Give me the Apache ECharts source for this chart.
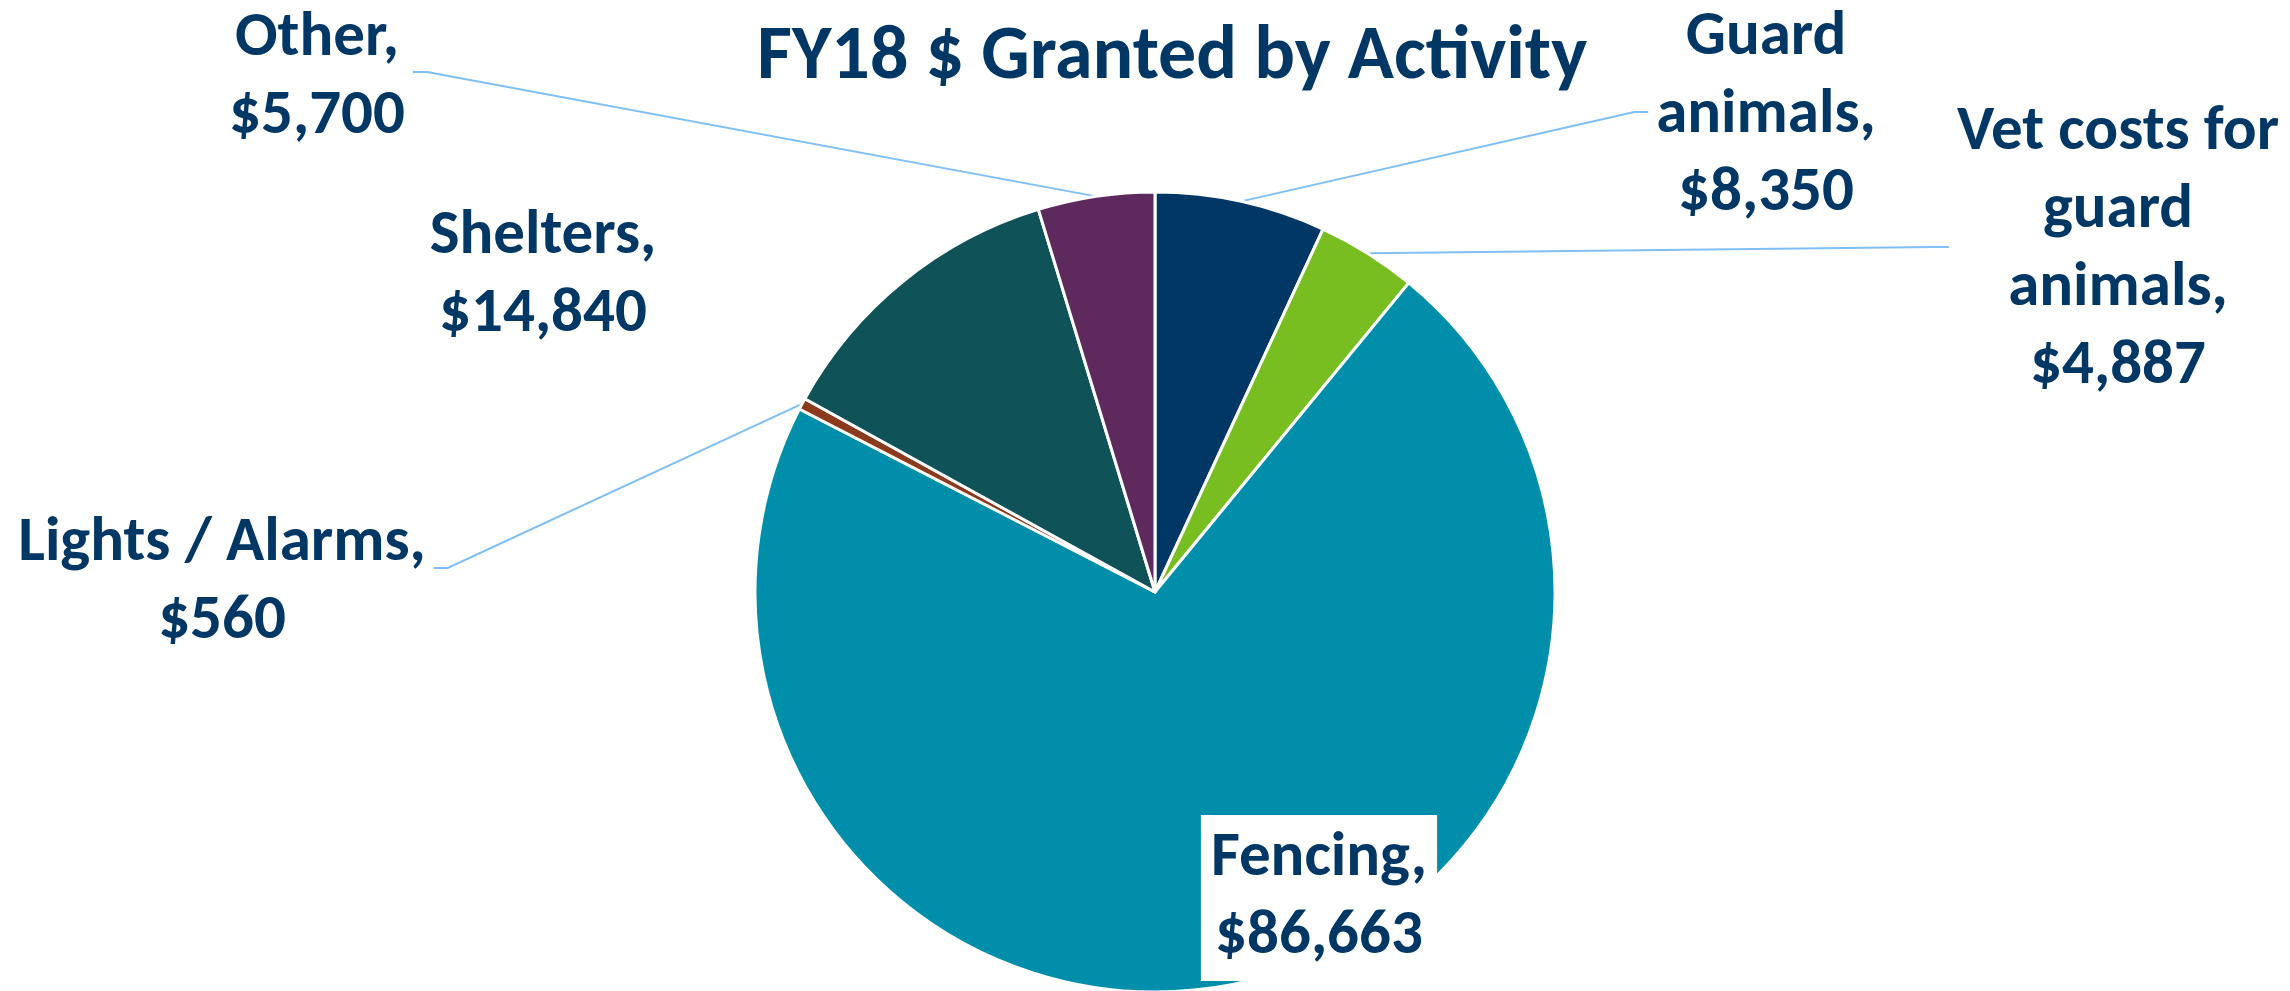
<!DOCTYPE html>
<html>
<head>
<meta charset="utf-8">
<title>FY18 $ Granted by Activity</title>
<script src="https://cdn.jsdelivr.net/npm/echarts@6/dist/echarts.min.js"></script>
<style>
  html, body { margin: 0; padding: 0; background: #fff; }
  #chart { width: 2290px; height: 991px; }
</style>
</head>
<body>
<div id="chart"></div>
<script>
// slices, clockwise from 12 o'clock
const categories = ['Guard\nanimals', 'Vet costs for\nguard\nanimals', 'Fencing', 'Lights / Alarms', 'Shelters', 'Other'];
const amounts = [8350, 4887, 86663, 560, 14840, 5700];
const colors = ['#003764', '#78be20', '#008eaa', '#8b3a1e', '#0f5257', '#5e2a5e'];

// where each label sits: [centerX, centerY, lineSide, lineYOffset]
// lineSide: 1 = leader leaves from the label's right, -1 = from its left, 0 = no leader
const labelPos = [
    [1766, 116, -1, -4],
    [2118, 250, -1, -3],
    [1319, 898, 0, 0],
    [222, 583, 1, -15],
    [543, 276, 0, 0],
    [317, 78, 1, -6]
];

const navy = '#003764';
const font = 'Carlito, Lato, "Open Sans", sans-serif';

var chart = echarts.init(document.getElementById('chart'));

var data = categories.map(function (name, i) {
    var item = { name: name, value: amounts[i], itemStyle: { color: colors[i] } };
    if (labelPos[i][2] === 0) item.labelLine = { show: false };
    if (i === 2) {
        item.label = { backgroundColor: '#fff', padding: [6, 10, 4, 10] };
    }
    return item;
});

var options = {
    backgroundColor: '#fff',
    title: {
        text: 'FY18 $ Granted by Activity',
        left: 752,
        top: 16,
        textStyle: { color: navy, fontFamily: font, fontWeight: 'bold', fontSize: 76 }
    },
    series: [
        {
            type: 'pie',
            center: [1155, 592],
            radius: 400,
            startAngle: 90,
            clockwise: true,
            avoidLabelOverlap: false,
            animation: false,
            itemStyle: { borderColor: '#fff', borderWidth: 3 },
            label: {
                show: true,
                position: 'outside',
                color: navy,
                fontFamily: font,
                fontWeight: 'bold',
                fontSize: 63,
                lineHeight: 78,
                align: 'center',
                formatter: function (p) {
                    return p.name + ',\n$' + p.value.toLocaleString('en-US');
                }
            },
            labelLine: {
                show: true,
                lineStyle: { color: '#7fbff5', width: 2 }
            },
            labelLayout: function (params) {
                var p = labelPos[params.dataIndex];
                var res = { x: p[0], y: p[1], align: 'center', verticalAlign: 'middle' };
                if (p[2] !== 0 && params.labelLinePoints) {
                    var start = params.labelLinePoints[0];
                    var hw = params.labelRect.width / 2;
                    var endX = p[0] + p[2] * (hw + 8);
                    var endY = p[1] + p[3];
                    res.labelLinePoints = [start, [endX + p[2] * 14, endY], [endX, endY]];
                }
                return res;
            },
            data: data
        }
    ]
};
chart.setOption(options, true);
</script>
</body>
</html>
